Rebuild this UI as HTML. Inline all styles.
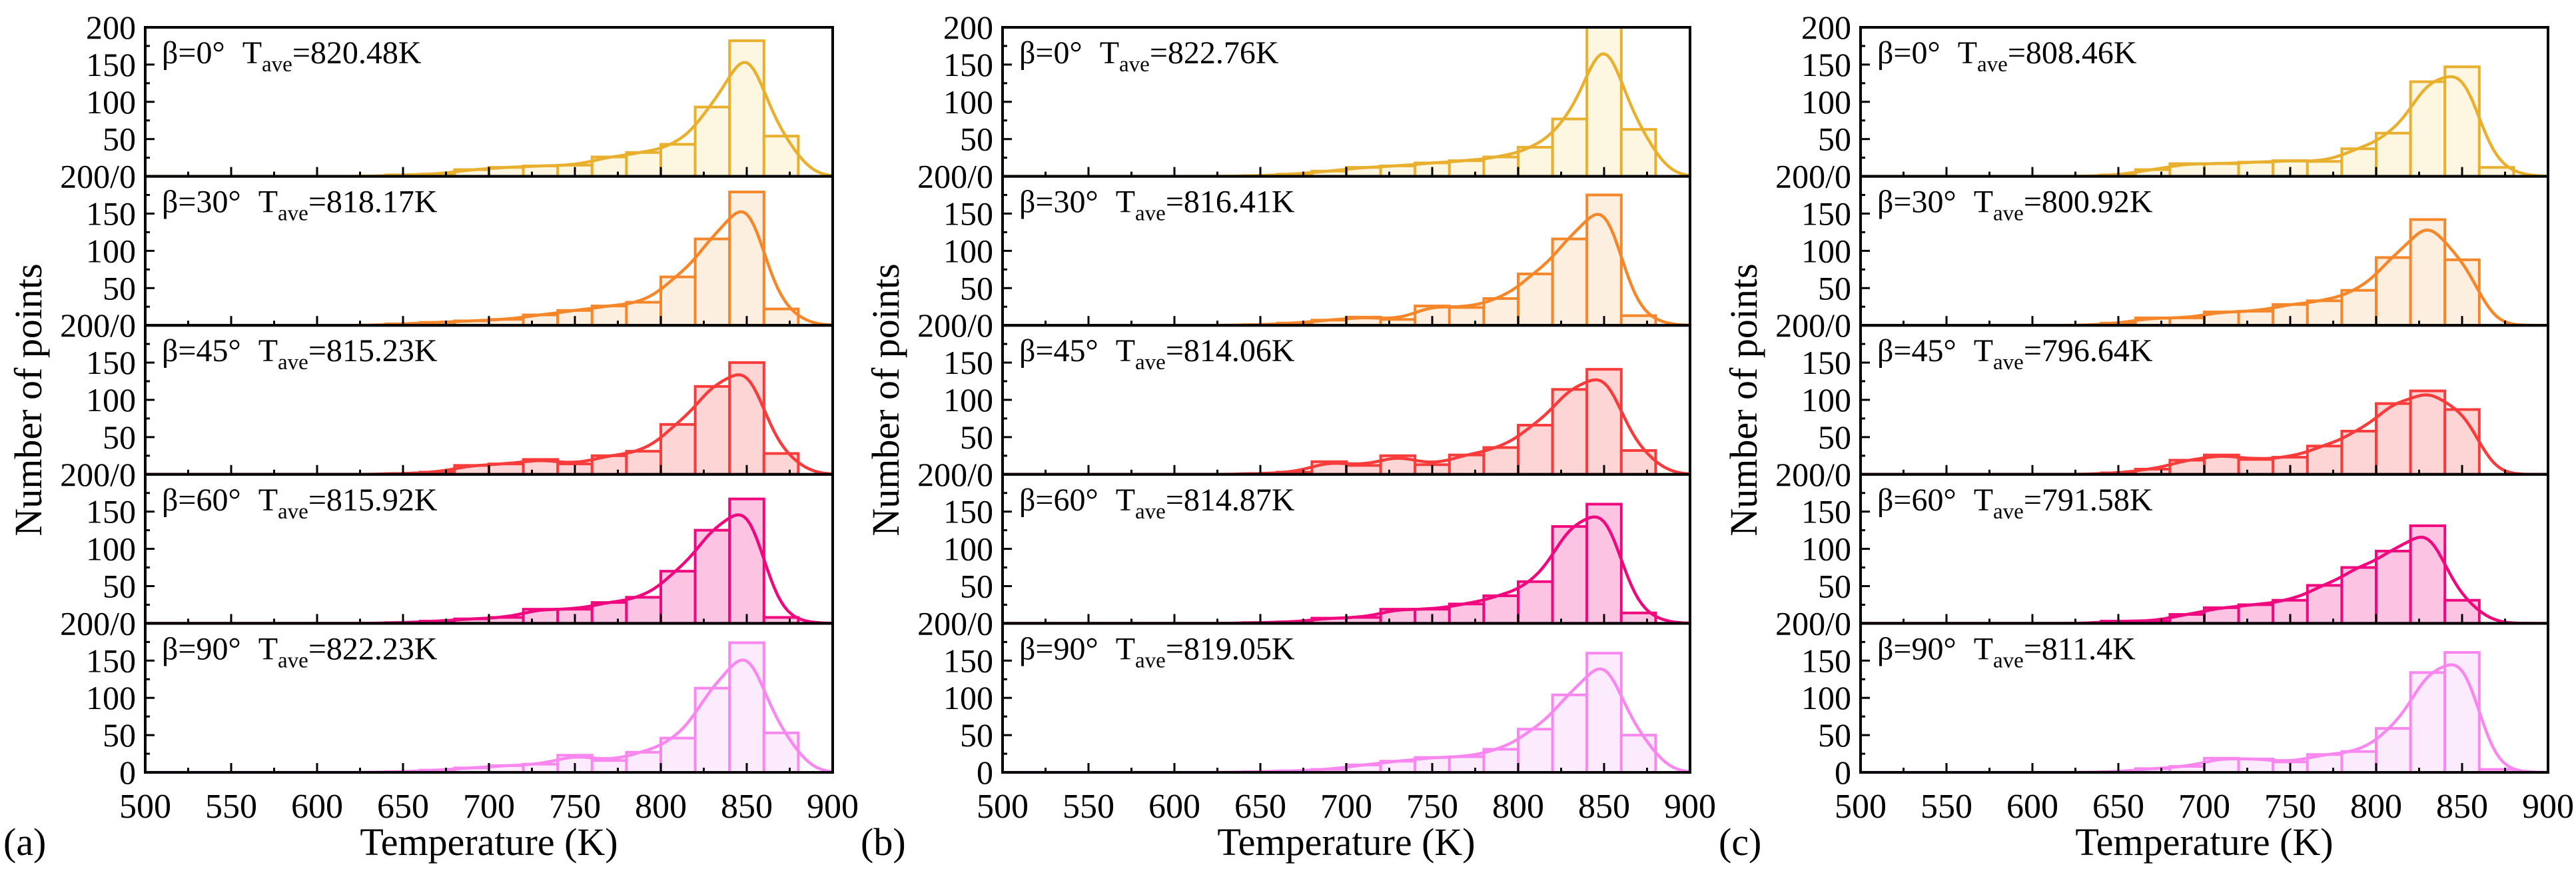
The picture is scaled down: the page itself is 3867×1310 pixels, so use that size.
<!DOCTYPE html>
<html><head><meta charset="utf-8">
<style>
html,body{margin:0;padding:0;background:#fff;}
svg{display:block;font-family:"Liberation Serif",serif;}
svg text{font-family:"Liberation Serif",serif;}
</style></head>
<body>
<svg id="chart" width="3867" height="1310" viewBox="0 0 3867 1310" font-family="Liberation Serif, serif" xmlns="http://www.w3.org/2000/svg"></svg>
<script>
// ---- data ----
const binStarts = [640,660,680,700,720,740,760,780,800,820,840,860];
const binWidth = 20;
const xTicks = [500,550,600,650,700,750,800,850,900];
const angles = ["0","30","45","60","90"];
const panelLabels = ["(a)","(b)","(c)"];
const taveA = ["820.48","818.17","815.23","815.92","822.23"];
const taveB = ["822.76","816.41","814.06","814.87","819.05"];
const taveC = ["808.46","800.92","796.64","791.58","811.4"];
const countsA0  = [2,3,9,12,14,15,26,32,43,93,182,54];
const countsA30 = [2,4,6,8,14,20,26,31,65,116,179,22];
const countsA45 = [1,3,12,14,20,14,25,31,67,118,150,28];
const countsA60 = [1,3,6,8,19,19,28,35,70,125,167,8];
const countsA90 = [1,3,6,9,11,23,16,27,46,113,174,53];
const countsB0  = [1,3,7,12,14,18,21,26,39,77,200,63];
const countsB30 = [1,3,7,11,8,26,24,36,69,116,175,13];
const countsB45 = [1,3,17,12,25,13,26,36,66,114,141,32];
const countsB60 = [1,2,7,8,19,19,26,37,56,130,160,14];
const countsB90 = [1,2,4,10,15,20,21,31,58,104,160,50];
const countsC0  = [2,9,17,17,19,21,20,37,58,127,147,12];
const countsC30 = [3,10,10,18,19,28,33,47,91,142,88,0];
const countsC45 = [2,7,19,26,20,23,38,58,95,112,87,0];
const countsC60 = [3,3,12,21,25,31,51,75,97,131,31,0];
const countsC90 = [1,5,8,19,18,14,24,28,59,134,161,4];

const strokeColors = ["#E8B02E","#F5872A","#F83C3C","#F0097E","#F888F0"];
const fillColors   = ["#FDF6E0","#FDEFE0","#FDD5D5","#FCC4E2","#FCEBFC"];

const panels = [
  {left:218, counts:[countsA0,countsA30,countsA45,countsA60,countsA90], tave:taveA},
  {left:1505, counts:[countsB0,countsB30,countsB45,countsB60,countsB90], tave:taveB},
  {left:2793, counts:[countsC0,countsC30,countsC45,countsC60,countsC90], tave:taveC}
];

// ---- layout ----
const PW = 1032, TOP = 41, SH = 223.6, YMAX = 200;
const svg = document.getElementById('chart');
const NS = "http://www.w3.org/2000/svg";
function mk(tag, attrs, parent){
  const e = document.createElementNS(NS, tag);
  for (const k in attrs) e.setAttribute(k, attrs[k]);
  (parent||svg).appendChild(e);
  return e;
}

panels.forEach((p, pi) => {
  const g = mk('g', {});
  
  
  const xs = T => p.left + (T - 500) / 400 * PW;

  for (let s = 0; s < 5; s++) {
    const top = TOP + s * SH, base = top + SH;
    const ys = v => base - Math.min(v, YMAX) / YMAX * SH;
    const sg = mk('g', {}, g);
    
    
    const cid = 'c' + pi + '_' + s;
    const cp = mk('clipPath', {id: cid}, sg);
    mk('rect', {x: p.left, y: top, width: PW, height: SH}, cp);
    const counts = p.counts[s];
    counts.forEach((c, i) => {
      if (c <= 0) return;
      const x0 = xs(binStarts[i]), x1 = xs(binStarts[i] + binWidth);
      const r = mk('rect', {x: x0, y: ys(c), width: x1 - x0, height: base - ys(c),
        fill: fillColors[s], stroke: strokeColors[s], 'stroke-width': 4, 'clip-path': 'url(#' + cid + ')'}, sg);
      
      
    });
    const sigma = 11;
    let d = '';
    for (let T = 500; T <= 900; T += 2) {
      let v = 0;
      counts.forEach((c, i) => {
        const ctr = binStarts[i] + binWidth / 2;
        v += c * binWidth / (sigma * Math.sqrt(2 * Math.PI)) * Math.exp(-((T - ctr) ** 2) / (2 * sigma * sigma));
      });
      d += (T === 500 ? 'M' : 'L') + xs(T).toFixed(1) + ',' + ys(v).toFixed(1);
    }
    const cv = mk('path', {d: d, fill: 'none', stroke: strokeColors[s], 'stroke-width': 4.5, 'clip-path': 'url(#' + cid + ')'}, sg);
    
    
    for (let T = 500; T <= 900; T += 25) {
      const major = (T % 50 === 0);
      mk('line', {x1: xs(T), x2: xs(T), y1: base, y2: base - (major ? 14 : 7), stroke: '#000', 'stroke-width': 3}, sg);
    }
    for (let v = 25; v < 200; v += 25) {
      const major = (v % 50 === 0);
      mk('line', {x1: p.left, x2: p.left + (major ? 14 : 7), y1: ys(v), y2: ys(v), stroke: '#000', 'stroke-width': 3}, sg);
      if (major) {
        const t = mk('text', {x: p.left - 14, y: ys(v) + 17, 'font-size': 50, 'text-anchor': 'end'}, sg);
        t.textContent = v;
        
        
      }
    }
    const bl = mk('text', {x: p.left - 14, y: base + 17, 'font-size': 50, 'text-anchor': 'end'}, sg);
    bl.textContent = (s < 4) ? '200/0' : '0';
    
    
    if (s === 0) {
      const tl = mk('text', {x: p.left - 14, y: top + 17, 'font-size': 50, 'text-anchor': 'end'}, sg);
      tl.textContent = '200';
      
      
    }
    const an = mk('text', {x: p.left + 25, y: top + 54, 'font-size': 48}, sg);
    
    
    const t1 = mk('tspan', {}, an); t1.textContent = 'β=' + angles[s] + '°';
    const t1b = mk('tspan', {dx: 26}, an); t1b.textContent = 'T';
    const t2 = mk('tspan', {'font-size': 33, dy: 12}, an); t2.textContent = 'ave';
    const t3 = mk('tspan', {dy: -12}, an); t3.textContent = '=' + p.tave[s] + 'K';
    mk('rect', {x: p.left, y: top, width: PW, height: SH, fill: 'none', stroke: '#000', 'stroke-width': 4}, sg);
  }
  const bottom = TOP + 5 * SH;
  xTicks.forEach(T => {
    const t = mk('text', {x: xs(T), y: bottom + 68, 'font-size': 52, 'text-anchor': 'middle'}, g);
    t.textContent = T;
    
    
  });
  const xt = mk('text', {x: p.left + PW / 2, y: 1283, 'font-size': 58, 'text-anchor': 'middle'}, g);
  xt.textContent = 'Temperature (K)';
  
  
  const yt = mk('text', {x: 0, y: 0, 'font-size': 58, 'text-anchor': 'middle',
    transform: 'translate(' + (p.left - 156) + ',600) rotate(-90)'}, g);
  yt.textContent = 'Number of points';
  
  
  const pl = mk('text', {x: p.left - 213, y: 1283, 'font-size': 58}, g);
  pl.textContent = panelLabels[pi];
  
  
});
</script>
</body></html>
